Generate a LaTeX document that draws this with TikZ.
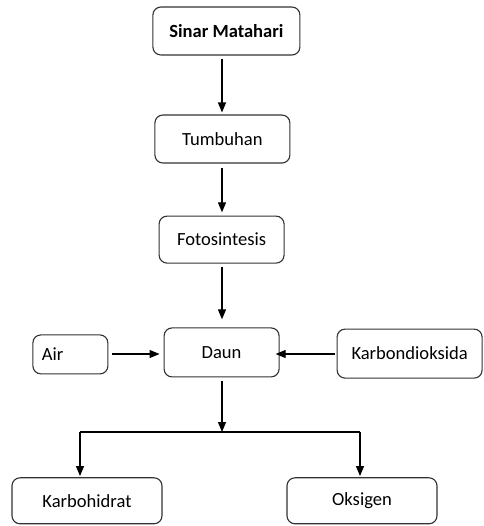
\documentclass[tikz,border=0pt]{standalone}
\usepackage{fontspec}
\setmainfont{Carlito}
\usetikzlibrary{arrows.meta}

\tikzset{
    box/.style={draw=black!80, line width=0.8pt, rounded corners=0.2cm, fill=white,
        inner sep=0pt, font=\fontsize{13.2}{16}\selectfont},
    arr/.style={-{Triangle[length=0.25cm,width=0.2cm]}, line width=0.8pt}
}

\begin{document}
\begin{tikzpicture}

            \useasboundingbox[fill=white] (0,0) rectangle (12.1,-13.15);

            \node[box, minimum width=3.675cm, minimum height=1.2cm] (sinar) at (5.66,-0.775) {\textbf{Sinar Matahari}};
            \node[box, minimum width=3.375cm, minimum height=1.2cm] (tumbuhan) at (5.56,-3.475) {Tumbuhan};
            \node[box, minimum width=3.125cm, minimum height=1.175cm] (foto) at (5.54,-5.99) {Fotosintesis};
            \node[box, minimum width=2.875cm, minimum height=1.225cm] (daun) at (5.54,-8.81) {Daun};
            \node[box, minimum width=1.875cm, minimum height=0.975cm, text width=1.42cm, align=left] (air) at (1.76,-8.86) {Air};
            \node[box, minimum width=3.625cm, minimum height=1.225cm] (karbon) at (10.24,-8.84) {Karbondioksida};
            \node[box, minimum width=3.75cm, minimum height=1.15cm] (karbo) at (2.175,-12.52) {Karbohidrat};
            \node[box, minimum width=3.75cm, minimum height=1.15cm] (oksigen) at (9.05,-12.52) {Oksigen};

            % alur utama
            \draw[arr] (sinar.south -| 5.55,0) ++(0,-0.08) -- ([yshift=0.05cm]tumbuhan.north -| 5.55,0);
            \draw[arr] ([yshift=-0.1cm]tumbuhan.south -| 5.55,0) -- ([yshift=0.08cm]foto.north -| 5.55,0);
            \draw[arr] ([yshift=-0.08cm]foto.south -| 5.55,0) -- ([yshift=0.2cm]daun.north -| 5.55,0);

            % masukan ke daun
            \draw[arr] ([xshift=0.1cm]air.east |- 0,-8.85) -- ([xshift=-0.1cm]daun.west |- 0,-8.85);
            \draw[arr] ([xshift=-0.05cm]karbon.west |- 0,-8.85) -- ([xshift=-0.1cm]daun.east |- 0,-8.85);

            % hasil
            \coordinate (cabang) at (5.55,-10.8);
            \draw[arr] ([yshift=-0.08cm]daun.south -| cabang) -- (cabang);
            \draw[line width=0.8pt] (2,-10.8) -- (9,-10.8);
            \draw[arr] (2,-10.8) -- ([yshift=0.03cm]karbo.north -| 2,0);
            \draw[arr] (9,-10.8) -- ([yshift=0.03cm]oksigen.north -| 9,0);

        \end{tikzpicture}
\end{document}
